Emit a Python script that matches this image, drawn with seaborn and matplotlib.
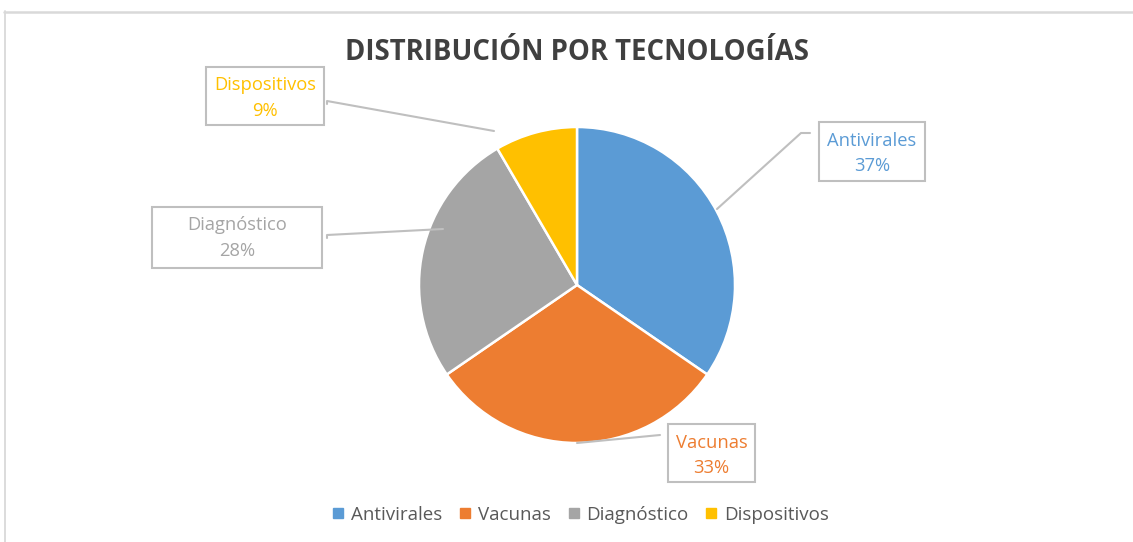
import matplotlib
matplotlib.use("Agg")
import matplotlib.pyplot as plt
from matplotlib.patches import Rectangle
from matplotlib.lines import Line2D
import seaborn as sns

# ---- data ----
categories = ["Antivirales", "Vacunas", "Diagnóstico", "Dispositivos"]
values = [37, 33, 28, 9]
label_texts = ["37%", "33%", "28%", "9%"]
title = "DISTRIBUCIÓN POR TECNOLOGÍAS"

sns.set_theme(style="white")
plt.rcParams["font.family"] = ["Open Sans", "DejaVu Sans"]

colors = sns.color_palette(["#5B9BD5", "#ED7D31", "#A5A5A5", "#FFC000"])

W, H = 1133, 542
fig = plt.figure(figsize=(W / 100, H / 100), dpi=100)
fig.patch.set_facecolor("white")


def fx(x):
    return x / W


def fy(y):
    return 1 - y / H


# pie axes: centre (577, 285) px, radius 158 px
cx, cy, r = 577, 285, 158
ax = fig.add_axes([fx(cx - r), fy(cy + r), 2 * r / W, 2 * r / H])
wedges, _ = ax.pie(values, colors=colors, startangle=90, counterclock=False,
                   wedgeprops=dict(edgecolor="white", linewidth=1.8))
ax.set_xlim(-1, 1)
ax.set_ylim(-1, 1)
ax.set_axis_off()

# outer chart frame (top and left visible)
frame_col = "#D9D9D9"
fig.add_artist(Line2D([fx(4), fx(W)], [fy(11.5), fy(11.5)], transform=fig.transFigure, color=frame_col, lw=1.8))
fig.add_artist(Line2D([fx(4.5), fx(4.5)], [fy(11), fy(H)], transform=fig.transFigure, color=frame_col, lw=1.3))

# title
fig.text(fx(577), fy(52), title, ha="center", va="center", fontsize=19.8,
         fontweight="bold", color="#404040", family=["Open Sans", "DejaVu Sans"])

# data label boxes (left, top, right, bottom in px) and leader lines
boxes = [(819, 122, 925, 181), (668, 424, 755, 482), (152, 207, 322, 268), (206, 67, 324, 125)]
leaders = [
    [(717, 209), (801, 133), (810, 133)],
    [(577, 443), (660, 435)],
    [(443, 229), (327, 235), (327, 238)],
    [(494, 131), (327, 101), (327, 104)],
]
edge_col = "#BFBFBF"
for i, (cat, lab) in enumerate(zip(categories, label_texts)):
    l, t, rr, b = boxes[i]
    fig.add_artist(Rectangle((fx(l), fy(b)), (rr - l) / W, (b - t) / H, transform=fig.transFigure,
                             facecolor="white", edgecolor=edge_col, lw=1.5, zorder=3))
    xs = [fx(p[0]) for p in leaders[i]]
    ys = [fy(p[1]) for p in leaders[i]]
    fig.add_artist(Line2D(xs, ys, transform=fig.transFigure, color=edge_col, lw=1.5, zorder=4))
    mx = (l + rr) / 2
    fig.text(fx(mx), fy(t + 18.5), cat, ha="center", va="center", fontsize=13.2, color=colors[i], zorder=5)
    fig.text(fx(mx), fy(t + 44), lab, ha="center", va="center", fontsize=13.2, color=colors[i], zorder=5)

# legend
handles = [Line2D([], [], marker="s", linestyle="none", markersize=6.5, markerfacecolor=c,
                  markeredgecolor=c) for c in colors]
leg = fig.legend(handles, categories, loc="center", bbox_to_anchor=(fx(580), fy(515)), ncol=4,
                 frameon=False, fontsize=13.5, handlelength=0.8, handletextpad=0.3, columnspacing=0.8,
                 labelcolor="#595959")

fig.savefig("out.png", dpi=100, facecolor="white")
